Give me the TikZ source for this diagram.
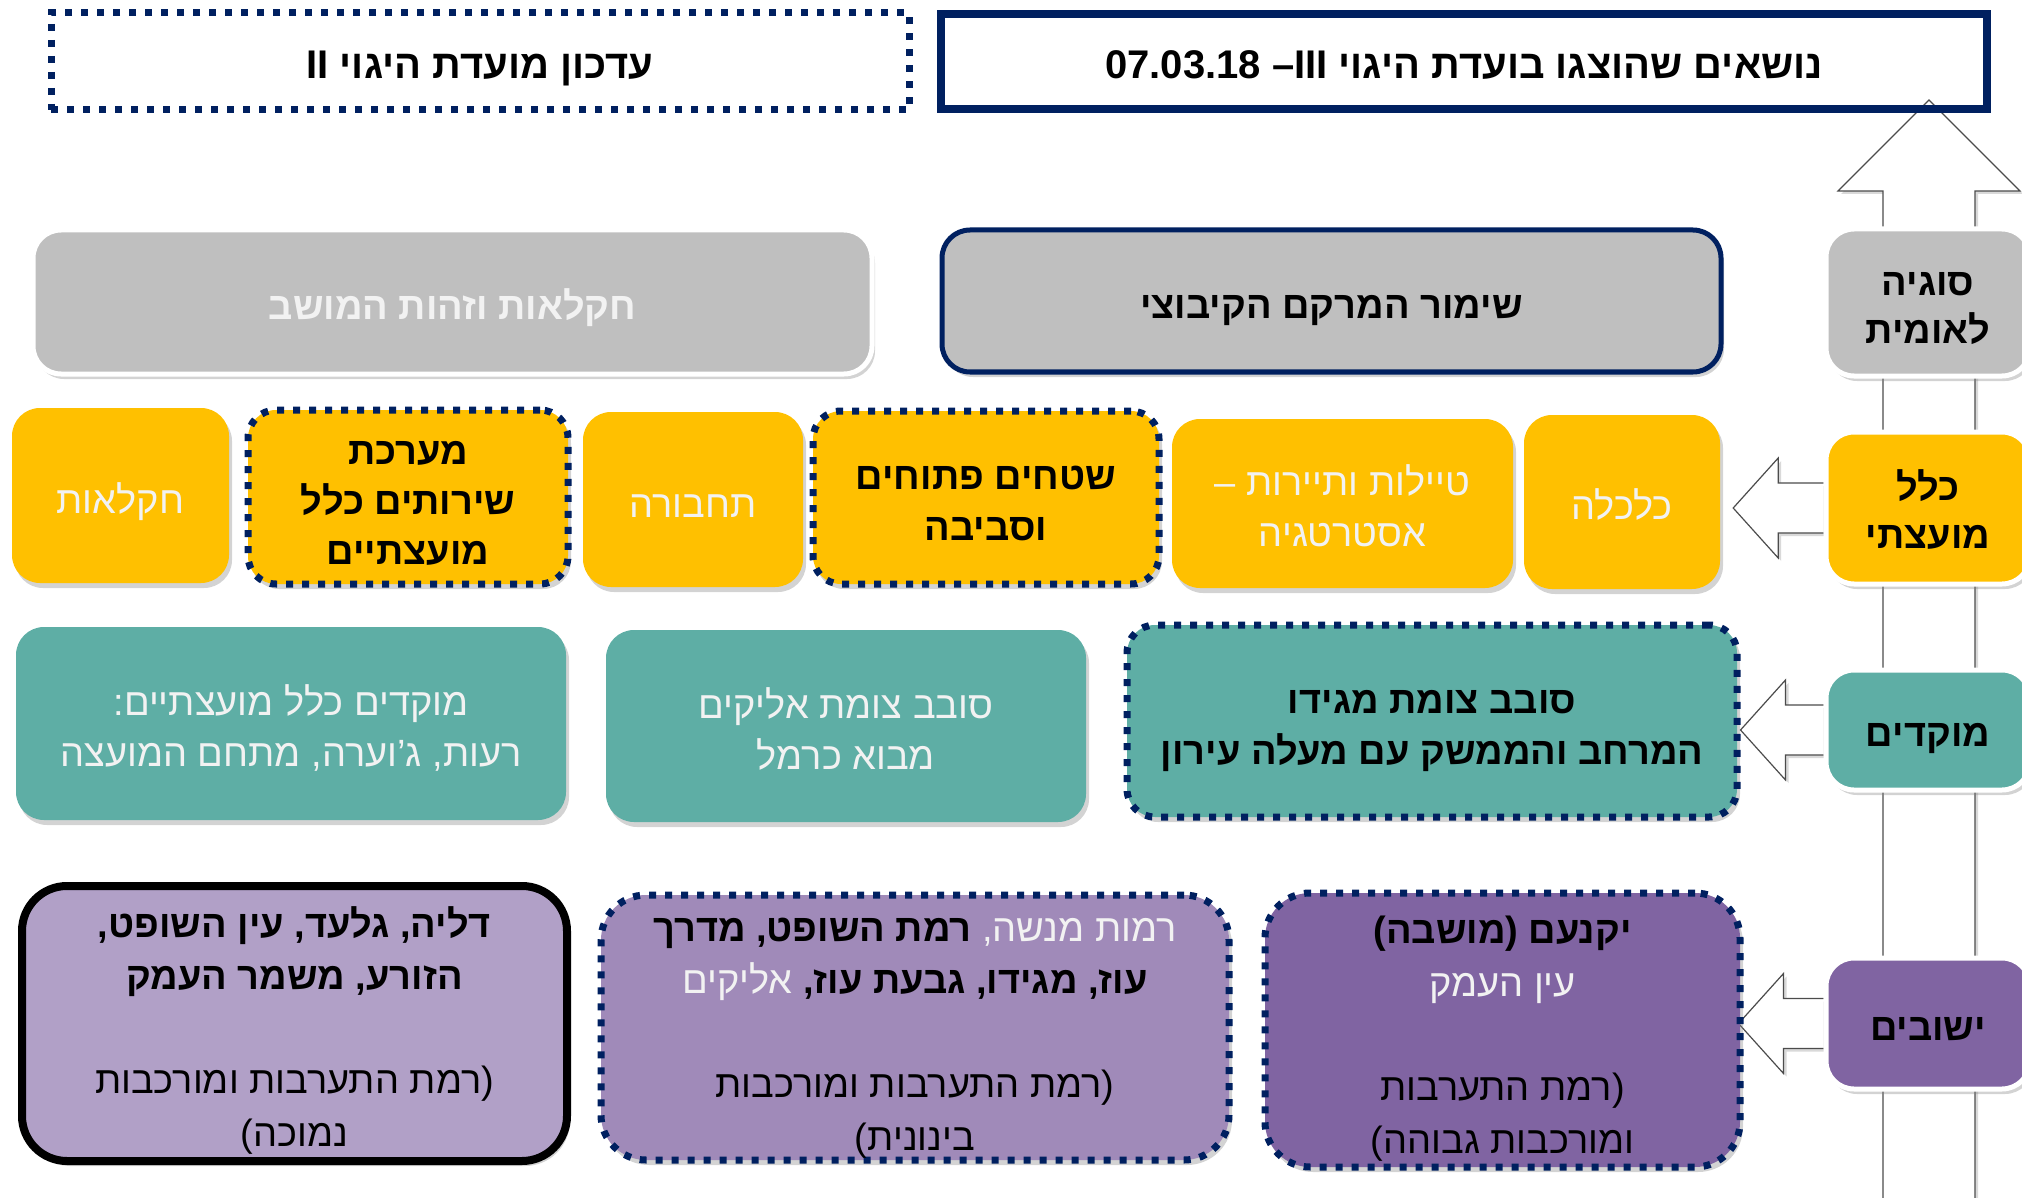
\documentclass[tikz,border=0pt]{standalone}
\usepackage{fontspec}
\setmainfont[Script=Hebrew]{Liberation Sans}
\usetikzlibrary{shadows,calc,backgrounds}
\TeXXeTstate=1
\newcommand\heb[1]{\rule[-.15\baselineskip]{0pt}{\baselineskip}\beginR #1\endR}
\newcommand\pointer[3]{%
  \coordinate (tip) at ($(#2.east |- #1.west)+(#3,0)$);
  \draw[blk] ($(#1.west)+(0,-25)$) -- ($(tip)+(45,-25)$) -- ($(tip)+(45,-50)$) -- (tip)
    -- ($(tip)+(45,50)$) -- ($(tip)+(45,25)$) -- ($(#1.west)+(0,25)$);}
\definecolor{navy}{HTML}{002060}
\definecolor{sgray}{HTML}{BFBFBF}
\definecolor{sgold}{HTML}{FFC000}
\definecolor{steal}{HTML}{5EAEA5}
\definecolor{spurA}{HTML}{8064A2}
\definecolor{spurB}{HTML}{A08AB9}
\definecolor{spurC}{HTML}{B1A0C7}
\definecolor{soft}{HTML}{F2F2F2}

\begin{document}
\begin{tikzpicture}[x=1pt, y=-1pt,
    tile/.style = {rounded corners=28pt, inner sep=0pt, align=center,
      drop shadow={opacity=.35, shadow xshift=3pt, shadow yshift=-5pt},
      font=\fontsize{38}{51}\selectfont},
    dots/.style = {draw=navy, line width=7pt, dash pattern=on 7pt off 9pt},
    rim/.style = {draw=white, line width=5pt},
    cat/.style = {tile, rim, fill=#1, minimum width=204pt, font=\bfseries\fontsize{38}{48}\selectfont},
    blk/.style = {fill=white, draw=black!70, line width=1.2pt,
      drop shadow={opacity=.3, shadow xshift=3pt, shadow yshift=-3pt}}]
  \useasboundingbox (0,0) rectangle (2022,1198);
  \clip (0,0) rectangle (2022,1198);

  % headers
  \node[draw=navy, line width=8pt, minimum width=1046pt, minimum height=95pt,
    font=\bfseries\fontsize{40}{48}\selectfont] (hdr) at (1464,61.5)
    {\heb{נושאים שהוצגו בועדת היגוי \beginL III\endL– \beginL 07.03.18\endL}};
  \node[dots, minimum width=858pt, minimum height=97pt,
    font=\bfseries\fontsize{40}{48}\selectfont] (upd) at (480,61.5)
    {\heb{עדכון מועדת היגוי \beginL II\endL}};

  % levels
  \node[cat=sgray, minimum height=147pt] (k1) at (1928,302.5) {\heb{סוגיה}\\\heb{לאומית}};
  \node[cat=sgold, minimum height=152pt] (k2) at (1928,508) {\heb{כלל}\\\heb{מועצתי}};
  \node[cat=steal, minimum height=120pt] (k3) at (1928,730) {\heb{מוקדים}};
  \node[cat=spurA, minimum height=131pt] (k4) at (1928,1023.5) {\heb{ישובים}};

  % national
  \node[tile, fill=sgray, draw=navy, line width=5pt, minimum width=779pt, minimum height=142pt,
    font=\bfseries\fontsize{38}{51}\selectfont] (n1) at (1331.5,301) {\heb{שימור המרקם הקיבוצי}};
  \node[tile, rim, fill=sgray, text=soft, minimum width=839pt, minimum height=144pt,
    font=\bfseries\fontsize{38}{51}\selectfont] (n2) at (452.5,302) {\heb{חקלאות וזהות המושב}};

  % council
  \node[tile, fill=sgold, text=soft, minimum width=196pt, minimum height=174pt] (c1) at (1622,502) {\heb{כלכלה}};
  \node[tile, fill=sgold, text=soft, minimum width=341pt, minimum height=169pt] (c2) at (1342.5,503.5)
    {\heb{טיילות ותיירות –}\\\heb{אסטרטגיה}};
  \node[tile, dots, fill=sgold, minimum width=346pt, minimum height=173pt,
    font=\bfseries\fontsize{38}{51}\selectfont] (c3) at (986,497.5) {\heb{שטחים פתוחים}\\\heb{וסביבה}};
  \node[tile, fill=sgold, text=soft, minimum width=220pt, minimum height=175pt] (c4) at (693,499.5) {\heb{תחבורה}};
  \node[tile, dots, fill=sgold, minimum width=320pt, minimum height=174pt,
    font=\bfseries\fontsize{38}{50}\selectfont] (c5) at (408,497)
    {\heb{מערכת}\\\heb{שירותים כלל}\\\heb{מועצתיים}};
  \node[tile, fill=sgold, text=soft, minimum width=217pt, minimum height=175pt] (c6) at (120.5,495.5) {\heb{חקלאות}};

  % hubs
  \node[tile, dots, fill=steal, minimum width=610pt, minimum height=192pt,
    font=\bfseries\fontsize{38}{51}\selectfont] (m1) at (1432,721)
    {\heb{סובב צומת מגידו}\\\heb{המרחב והממשק עם מעלה עירון}};
  \node[tile, fill=steal, text=soft, minimum width=480pt, minimum height=192pt] (m2) at (846,726)
    {\heb{סובב צומת אליקים}\\\heb{מבוא כרמל}};
  \node[tile, fill=steal, text=soft, minimum width=550pt, minimum height=193pt] (m3) at (291,723.5)
    {\heb{מוקדים כלל מועצתיים:}\\\heb{רעות, ג'וערה, מתחם המועצה}};

  % settlements
  \node[tile, dots, fill=spurA, rounded corners=45pt, minimum width=475pt, minimum height=274pt,
    font=\fontsize{38}{52}\selectfont] (s1) at (1502.5,1030)
    {\textbf{\heb{יקנעם (מושבה)}}\\\textcolor{soft}{\heb{עין העמק}}\\\mbox{}\\\heb{(רמת התערבות}\\\heb{ומורכבות גבוהה)}};
  \node[tile, dots, fill=spurB, rounded corners=45pt, minimum width=628pt, minimum height=265pt,
    font=\fontsize{38}{52}\selectfont] (s2) at (915,1027.5)
    {\textbf{\heb{רמת השופט, מדרך}} \textcolor{soft}{\heb{רמות מנשה,}}\\
     \textcolor{soft}{\heb{אליקים}} \textbf{\heb{עוז, מגידו, גבעת עוז,}}\\\mbox{}\\
     \heb{(רמת התערבות ומורכבות}\\\heb{בינונית)}};
  \node[tile, fill=spurC, draw=black, line width=8pt, rounded corners=45pt, minimum width=545pt, minimum height=275pt,
    font=\fontsize{38}{52}\selectfont] (s3) at (294.5,1023.5)
    {\textbf{\heb{דליה, גלעד, עין השופט,}}\\\textbf{\heb{הזורע, משמר העמק}}\\\mbox{}\\
     \heb{(רמת התערבות ומורכבות}\\\heb{נמוכה)}};

  \begin{scope}[on background layer]
    \coordinate (foot) at (1929,1198);
    \coordinate (apex) at (1929,100);
    \draw[blk] ($(foot)+(-46,0)$) -- ($(apex)+(-46,91)$) -- ($(apex)+(-91,91)$) -- (apex)
      -- ($(apex)+(91,91)$) -- ($(apex)+(46,91)$) -- ($(foot)+(46,0)$);
    \pointer{k2}{c1}{13}
    \pointer{k3}{m1}{0}
    \pointer{k4}{s1}{-5}
  \end{scope}
\end{tikzpicture}
\end{document}
